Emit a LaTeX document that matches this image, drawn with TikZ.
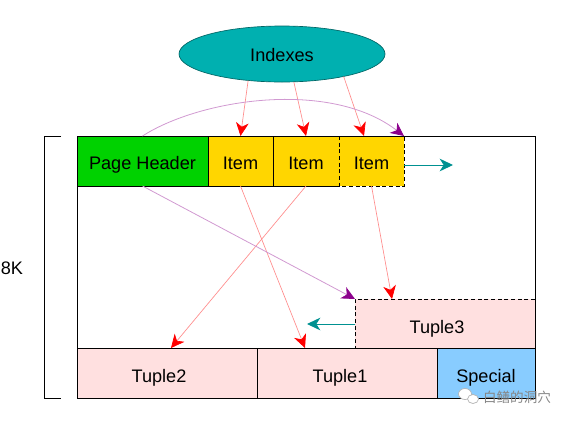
\documentclass[tikz,border=0pt]{standalone}
\usepackage{fontspec}
\setmainfont{Liberation Sans}
\newfontfamily\cjk{Noto Sans CJK SC}
\definecolor{hdrgreen}{RGB}{0,210,0}
\definecolor{itemgold}{RGB}{255,214,0}
\definecolor{tuplepink}{RGB}{255,224,224}
\definecolor{specialblue}{RGB}{136,204,255}
\definecolor{idxteal}{RGB}{0,176,176}
\definecolor{ptrteal}{RGB}{0,145,145}
\definecolor{ptrpurple}{RGB}{140,0,140}
\usetikzlibrary{shapes.geometric,arrows.meta,positioning}

\begin{document}
\begin{tikzpicture}[
		x=0.75pt, y=-0.75pt,
		cell/.style={draw=black, line width=0.75pt, outer sep=0pt, inner sep=0pt,
			minimum height=37.5pt, align=center, text height=12pt, text depth=0pt,
			font=\fontsize{13.6}{15}\selectfont},
		lowcell/.style={cell, text height=13.5pt},
		ghost/.style={cell, draw=none},
		dashline/.style={line width=0.75pt, dash pattern=on 3pt off 2pt},
		redarrow/.style={-{Stealth[length=10pt, width=9.5pt, inset=3pt, red]}, red!45, line width=0.5pt},
		purparrow/.style={-{Stealth[length=10pt, width=9.5pt, inset=3pt, ptrpurple]}, ptrpurple!40, line width=0.6pt},
		tealarrow/.style={-{Stealth[length=10pt, width=9.5pt, inset=3pt, ptrteal]}, ptrteal, line width=0.75pt}
	]
		\useasboundingbox (0,0) rectangle (570,422);
		% page frame and bracket
		\node[draw=black, line width=0.75pt, outer sep=0pt, minimum width=343.5pt, minimum height=196.5pt] (page) at (306,267) {};
		\draw[line width=0.75pt] (61,136) -- (44,136) -- (44,398) -- (61,398);
		\node[font=\fontsize{13.6}{15}\selectfont] (size) at (12,268) {8K};
		% top row
		\node[cell, fill=hdrgreen, minimum width=98.25pt] (hdr) at (142.5,161) {Page Header};
		\node[cell, fill=itemgold, minimum width=48.75pt] (item1) at (240.5,161) {Item};
		\node[cell, fill=itemgold, minimum width=49.5pt] (item2) at (306,161) {Item};
		\node[ghost, fill=itemgold, minimum width=48.75pt] (item3) at (371.5,161) {Item};
		\draw[line width=0.75pt] (item3.north west) -- (item3.north east);
		\draw[dashline] (item3.north west) -- (item3.south west) -- (item3.south east) -- (item3.north east);
		% bottom row
		\node[lowcell, fill=tuplepink, minimum width=135pt] (tuple2) at (167,373) {Tuple2\hspace*{12pt}};
		\node[lowcell, fill=tuplepink, minimum width=135pt] (tuple1) at (347,373) {Tuple1\hspace*{10.5pt}};
		\node[lowcell, fill=specialblue, minimum width=73.5pt] (special) at (486,373) {Special};
		\node[ghost, text height=15pt, fill=tuplepink, minimum width=135pt, minimum height=36.75pt] (tuple3) at (445,323.5) {Tuple3\hspace*{12pt}};
		\draw[line width=0.75pt] (tuple3.north east) -- (tuple3.south east);
		\draw[dashline] (tuple3.north east) -- (tuple3.north west) -- (tuple3.south west) -- (tuple3.south east);
		% index
		\node[draw=ptrteal!70!black, fill=idxteal, ellipse, line width=0.5pt, outer sep=0pt, inner sep=0pt,
			minimum width=154.5pt, minimum height=42pt, text height=10.5pt, text depth=0pt,
			font=\fontsize{13.6}{15}\selectfont] (idx) at (282,54) {Indexes};
		\coordinate (item3in) at (364,136);
		\coordinate (newitem) at (453,165);
		\coordinate (newtuple) at (307,324);
		\coordinate (item3out) at (404,165);
		\coordinate (tuple3out) at (355,324);
		\coordinate (tuple3in) at (392,299);
		\coordinate (tuple1in) at (305,348);
		\coordinate (tuple2in) at (171,348);
		% pointers
		\draw[redarrow] (idx.218) -- (item1.north);
		\draw[redarrow] (idx.293) -- (item2.north);
		\draw[redarrow] (idx.340) -- (item3in);
		\draw[redarrow] (item1.south) -- (tuple1in);
		\draw[redarrow] (item2.south) -- (tuple2in);
		\draw[redarrow] (item3.south) -- (tuple3in);
		\draw[purparrow] (hdr.north) .. controls (200,99) and (330,79) .. (item3.north east);
		\draw[purparrow] (hdr.south) -- (tuple3.north west);
		\draw[tealarrow] (item3out) -- (newitem);
		\draw[tealarrow] (tuple3out) -- (newtuple);
		% watermark
		\draw[gray!60, fill=white, line width=0.5pt] (465,394) ellipse (6.5 and 5.5);
		\draw[gray!60, fill=white, line width=0.5pt] (473,399) ellipse (5.5 and 4.5);
		\node[text=gray!95, font=\cjk\fontsize{10.2}{12}\selectfont] (mark) at (517,397) {白鳝的洞穴};
	\end{tikzpicture}
\end{document}
